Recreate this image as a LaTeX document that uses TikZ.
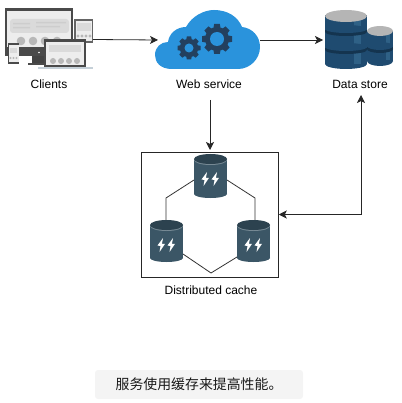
\documentclass[tikz,border=0pt]{standalone}
\usepackage{fontspec}
\setmainfont{Liberation Sans}
\newfontfamily\cjk{Noto Sans CJK SC}
\usetikzlibrary{arrows.meta,calc}
\definecolor{cloudblue}{HTML}{2A93DC}
\definecolor{geardark}{HTML}{23405F}
\definecolor{dbblue}{HTML}{1F4B70}
\definecolor{dbdark}{HTML}{14344F}
\definecolor{dblight}{HTML}{2F6186}
\definecolor{dbtop}{HTML}{B5B5B5}
\definecolor{cacheb}{HTML}{3B5666}
\definecolor{cached}{HTML}{2C424F}
\definecolor{capfill}{HTML}{F4F4F4}
\definecolor{frameg}{HTML}{4A4A4A}
\definecolor{panelg}{HTML}{EDEDED}
\definecolor{barg}{HTML}{DADADA}
\definecolor{dotg}{HTML}{B8B8B8}
\definecolor{basecol}{HTML}{C5D0D8}
\tikzset{
  x=1pt,y=-1pt,
  lbl/.style={font=\fontsize{12}{14}\selectfont,text=black,inner sep=0pt},
  anchorbox/.style={inner sep=0pt,outer sep=0pt},
  link/.style={line width=0.8pt,draw=black!85,-{Stealth[length=8pt,width=8pt,inset=2pt]}},
  biglink/.style={line width=0.8pt,draw=black!85,{Stealth[length=8pt,width=8pt,inset=2pt]}-{Stealth[length=8pt,width=8pt,inset=2pt]}},
  ringline/.style={line width=0.8pt,draw=black!80},
}
% gear: x, y, outer r, hole r
\newcommand{\gearat}[4]{%
  \fill[geardark] (#1,#2) circle[radius=#3*0.8];
  \foreach \ga in {0,45,...,315}{
    \fill[geardark,shift={(#1,#2)},rotate=\ga] (#3*0.7,-#3*0.24) -- (#3,-#3*0.19) -- (#3,#3*0.19) -- (#3*0.7,#3*0.24) -- cycle;
  }
  \fill[cloudblue] (#1,#2) circle[radius=#4];
}
% cache cylinder: centre x, top y, half width, bottom y
\newcommand{\cachecyl}[4]{%
  \fill[cacheb] (#1-#3,#2+5) rectangle (#1+#3,#4-4);
  \fill[cacheb] (#1,#4-4) ellipse[x radius=#3,y radius=4];
  \fill[cacheb!70!white] (#1,#2+6) ellipse[x radius=#3,y radius=5];
  \fill[cached] (#1,#2+5) ellipse[x radius=#3,y radius=5];
  \fill[white,shift={(#1,#2+25)}] (-9,0.5) -- (-3.5,-7) -- (-4.6,-1) -- (-1.5,-1.2) -- (-7,7) -- (-6,1) -- cycle;
  \fill[white,shift={(#1,#2+25)}] (1,0.5) -- (6.5,-7) -- (5.4,-1) -- (8.5,-1.2) -- (3,7) -- (4,1) -- cycle;
}
% database drum: xl, xr, top y, bottom y
\newcommand{\drum}[4]{%
  \fill[dbblue] (#1,#3+5) rectangle (#2,#4-5);
  \fill[dbblue] ({(#1+#2)/2},#4-5) ellipse[x radius={(#2-#1)/2},y radius=5];
}
% dark band on a drum: xl, xr, y
\newcommand{\band}[3]{%
  \fill[dbdark] ({(#1+#2)/2},#3+2) ellipse[x radius={(#2-#1)/2},y radius=4];
  \fill[dbdark] (#1,#3) rectangle (#2,#3+2);
  \fill[dbblue] ({(#1+#2)/2},#3-1) ellipse[x radius={(#2-#1)/2},y radius=4];
}
\begin{document}
\begin{tikzpicture}
\useasboundingbox (0,0) rectangle (401,403);
% Clients icon
\node[anchorbox,minimum width=88,minimum height=61] (clients) at (49,39.5) {};
\fill[frameg] (5,8) rectangle (73,56);
\fill[panelg] (7,11) rectangle (71,47);
\fill[barg,rounded corners=3pt] (10,19) rectangle (69,33);
\fill[dotg!70!white] (13,23) rectangle (30,24.5) (13,27) rectangle (30,28.5) (36,22) rectangle (66,23.5) (36,26) rectangle (60,27.5);
\foreach \cx in {21,33,45,57} \fill[dotg] (\cx,41) circle[radius=4.3];
\fill[frameg] (5,47) rectangle (73,56);
\fill[white] (39,52.5) circle[radius=0.9];
\fill[frameg!90!black] (32,56) rectangle (45,63);
\fill[frameg] (28,63) rectangle (46,65);
% tablet
\fill[frameg!85!white] (74,19) rectangle (93,43);
\fill[panelg] (75.5,21) rectangle (91.5,41);
\fill[barg] (76.5,23) rectangle (90.5,31);
\foreach \cx in {78,82,86,90} \fill[dotg] (\cx,36) circle[radius=1.6];
% phone
\fill[frameg] (8,43) rectangle (19,64);
\fill[panelg] (8.5,45.5) rectangle (18.5,62);
\fill[barg] (10,48) rectangle (17,53);
\foreach \cx in {10.5,13.5,16.5} \fill[dotg] (\cx,58) circle[radius=1.1];
% laptop
\fill[frameg] (44,39) rectangle (86,67);
\fill[panelg] (46,42) rectangle (84,65);
\fill[barg] (49,45) rectangle (81,52);
\foreach \cx in {53,61,69,77} \fill[dotg] (\cx,61) circle[radius=3];
\fill[basecol] (38,67) rectangle (93,69);
\node[lbl,anchor=center] (clientslabel) at (49,84) {Clients};
% Cloud
\node[anchorbox,minimum width=102,minimum height=59] (cloud) at (209,40) {};
\fill[cloudblue]
  (172,69) .. controls (160,69) and (155,62) .. (155,55)
  .. controls (155,47) and (161,42) .. (168,42)
  .. controls (169,34) and (176,27) .. (186,27)
  .. controls (192,16) and (204,10) .. (214,10)
  .. controls (228,10) and (238,17) .. (242,27)
  .. controls (252,28) and (260,36) .. (260,47)
  .. controls (260,59) and (250,69) .. (238,69) -- cycle;
\gearat{189}{48}{11.5}{4.5}
\gearat{217}{39}{15}{7}
\node[lbl] (weblabel) at (209,84) {Web service};
% Data store
\node[anchorbox,minimum width=70,minimum height=59] (store) at (358,40) {};
\drum{367}{393}{26}{66}
\fill[dblight] (386,32) rectangle (390,60);
\band{367}{393}{47}
\fill[dbtop] (380,31) ellipse[x radius=13,y radius=5];
\drum{325}{367}{10}{69}
\fill[dblight] (354,20) rectangle (361,64);
\band{325}{367}{30}
\band{325}{367}{48}
\fill[dbtop] (346,16) ellipse[x radius=21,y radius=6];
\node[lbl] (storelabel) at (360,84) {Data store};
% Cache
\node[draw=black!85,line width=0.9pt,anchorbox,minimum width=137.5,minimum height=125] (cachebox) at (210,214.5) {};
\node[anchorbox,minimum width=33,minimum height=44] (cachetop) at (210.5,176) {};
\node[anchorbox,minimum width=33,minimum height=42] (cacheleft) at (166.5,241) {};
\node[anchorbox,minimum width=33,minimum height=42] (cacheright) at (253.5,241) {};
\coordinate (ringl) at (166,198);
\coordinate (ringr) at (255,198);
\coordinate (ringb) at (211,273);
\draw[ringline] ($(cachetop.west)+(0,4)$) -- (ringl) -- (cacheleft.north -| ringl);
\draw[ringline] ($(cachetop.east)+(0,4)$) -- (ringr) -- (cacheright.north -| ringr);
\draw[ringline] ($(cacheleft.east)+(0,13)$) -- (ringb) -- ($(cacheright.west)+(0,16)$);
\cachecyl{210.5}{154}{16.5}{198}
\cachecyl{166.5}{220}{16.5}{262}
\cachecyl{253.5}{220}{16.5}{262}
\node[lbl] (cachelabel) at (211,290) {Distributed cache};
% Connectors
\coordinate (webdrop) at (210,100);
\draw[link] (clients.east) -- (cloud.west);
\draw[link] (cloud.east) -- (store.west);
\draw[link,shorten >=2pt] (webdrop) -- (webdrop |- cachebox.north);
\coordinate (corner) at (361,214.5);
\coordinate (storedrop) at (361,95);
\draw[biglink] (storedrop) -- (corner) -- (cachebox.east);
% Caption
\node[fill=capfill,rounded corners=3pt,minimum width=208,minimum height=29,inner sep=0pt,font=\cjk\fontsize{13.9}{16}\selectfont,text=black!90] (caption) at (199,384.5) {服务使用缓存来提高性能。\hspace{9pt}};
\end{tikzpicture}
\end{document}
